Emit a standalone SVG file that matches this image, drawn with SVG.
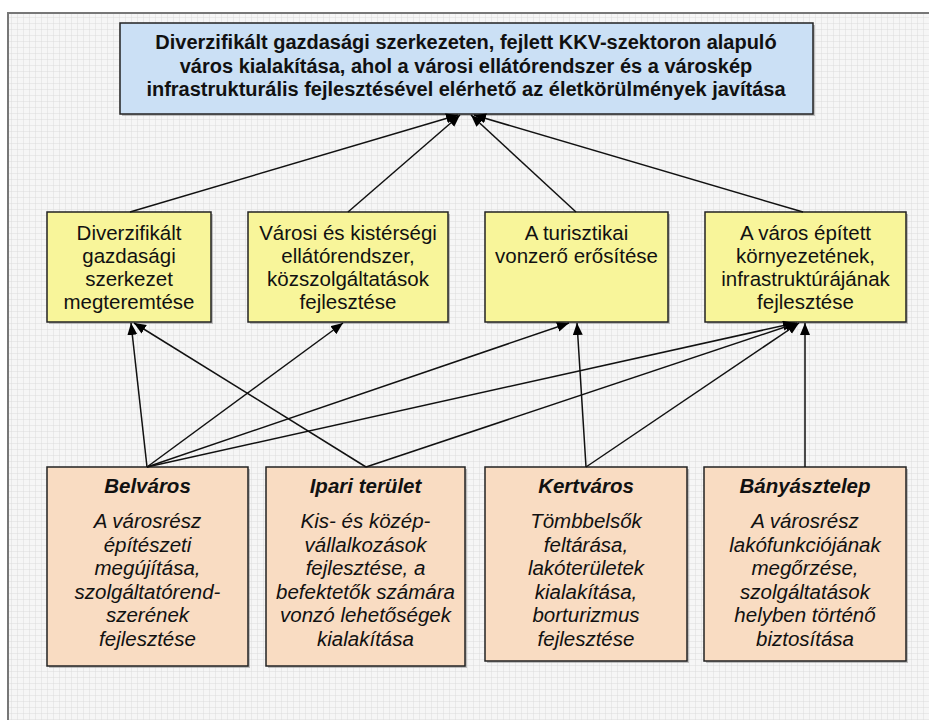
<svg xmlns="http://www.w3.org/2000/svg" width="929" height="720" viewBox="0 0 929 720">
  <defs>
    <pattern id="grid" width="6" height="6" patternUnits="userSpaceOnUse">
      <rect width="6" height="6" fill="#f6f6f6"/>
      <path d="M6 0V6M0 6H6" stroke="#dcdcdc" stroke-width="1" fill="none"/>
    </pattern>
    <marker id="ah" markerUnits="userSpaceOnUse" markerWidth="14" markerHeight="12" refX="12" refY="5" orient="auto">
      <path d="M0 0L12 5L0 10Z" fill="#000"/>
    </marker>
    <style>
      .box { stroke: #222; stroke-width: 1.5; }
      .shadow { fill: #9a9a9a; opacity: 0.6; }
      .top { fill: #cbe0f5; }
      .mid { fill: #f8f59a; }
      .bot { fill: #f9dcc2; }
      .t { font-family: "Liberation Sans", Arial, sans-serif; fill: #111; text-anchor: middle; }
      .tb { font-size: 20px; font-weight: bold; }
      .tm { font-size: 20.5px; }
      .th { font-size: 20.5px; font-weight: bold; font-style: italic; }
      .ti { font-size: 20.5px; font-style: italic; }
      .c { stroke: #111; stroke-width: 1.5; fill: none; marker-end: url(#ah); }
    </style>
  </defs>

  <rect x="0" y="0" width="929" height="720" fill="#ffffff"/>
  <rect x="8" y="13" width="930" height="720" fill="url(#grid)" stroke="#777" stroke-width="2"/>

  <g id="goal">
    <rect class="shadow" x="122" y="25" width="693" height="91"/>
    <rect class="box top" x="120" y="23" width="693" height="91"/>
    <text class="t tb" x="466" y="49">Diverzifikált gazdasági szerkezeten, fejlett KKV-szektoron alapuló</text>
    <text class="t tb" x="466" y="72.5">város kialakítása, ahol a városi ellátórendszer és a városkép</text>
    <text class="t tb" x="466" y="96">infrastrukturális fejlesztésével elérhető az életkörülmények javítása</text>
  </g>

  <g id="m1">
    <rect class="shadow" x="49" y="214" width="164" height="110"/>
    <rect class="box mid" x="47" y="212" width="164" height="110"/>
    <text class="t tm" x="129" y="240">Diverzifikált</text>
    <text class="t tm" x="129" y="263">gazdasági</text>
    <text class="t tm" x="129" y="286">szerkezet</text>
    <text class="t tm" x="129" y="309">megteremtése</text>
  </g>
  <g id="m2">
    <rect class="shadow" x="250" y="214" width="200" height="110"/>
    <rect class="box mid" x="248" y="212" width="200" height="110"/>
    <text class="t tm" x="348" y="240">Városi és kistérségi</text>
    <text class="t tm" x="348" y="263">ellátórendszer,</text>
    <text class="t tm" x="348" y="286">közszolgáltatások</text>
    <text class="t tm" x="348" y="309">fejlesztése</text>
  </g>
  <g id="m3">
    <rect class="shadow" x="487" y="214" width="183" height="110"/>
    <rect class="box mid" x="485" y="212" width="183" height="110"/>
    <text class="t tm" x="576.5" y="240">A turisztikai</text>
    <text class="t tm" x="576.5" y="263">vonzerő erősítése</text>
  </g>
  <g id="m4">
    <rect class="shadow" x="707" y="214" width="201" height="110"/>
    <rect class="box mid" x="705" y="212" width="201" height="110"/>
    <text class="t tm" x="805.5" y="240">A város épített</text>
    <text class="t tm" x="805.5" y="263">környezetének,</text>
    <text class="t tm" x="805.5" y="286">infrastruktúrájának</text>
    <text class="t tm" x="805.5" y="309">fejlesztése</text>
  </g>

  <g id="b1">
    <rect class="shadow" x="49" y="469" width="201" height="199"/>
    <rect class="box bot" x="47" y="467" width="201" height="199"/>
    <text class="t th" x="147.5" y="493">Belváros</text>
    <text class="t ti" x="147.5" y="528">A városrész</text>
    <text class="t ti" x="147.5" y="551.5">építészeti</text>
    <text class="t ti" x="147.5" y="575">megújítása,</text>
    <text class="t ti" x="147.5" y="598.5">szolgáltatórend-</text>
    <text class="t ti" x="147.5" y="622">szerének</text>
    <text class="t ti" x="147.5" y="645.5">fejlesztése</text>
  </g>
  <g id="b2">
    <rect class="shadow" x="268" y="469" width="199" height="199"/>
    <rect class="box bot" x="266" y="467" width="199" height="199"/>
    <text class="t th" x="365.5" y="493">Ipari terület</text>
    <text class="t ti" x="365.5" y="528">Kis- és közép-</text>
    <text class="t ti" x="365.5" y="551.5">vállalkozások</text>
    <text class="t ti" x="365.5" y="575">fejlesztése, a</text>
    <text class="t ti" x="365.5" y="598.5">befektetők számára</text>
    <text class="t ti" x="365.5" y="622">vonzó lehetőségek</text>
    <text class="t ti" x="365.5" y="645.5">kialakítása</text>
  </g>
  <g id="b3">
    <rect class="shadow" x="487" y="469" width="202" height="194"/>
    <rect class="box bot" x="485" y="467" width="202" height="194"/>
    <text class="t th" x="586" y="493">Kertváros</text>
    <text class="t ti" x="586" y="528">Tömbbelsők</text>
    <text class="t ti" x="586" y="551.5">feltárása,</text>
    <text class="t ti" x="586" y="575">lakóterületek</text>
    <text class="t ti" x="586" y="598.5">kialakítása,</text>
    <text class="t ti" x="586" y="622">borturizmus</text>
    <text class="t ti" x="586" y="645.5">fejlesztése</text>
  </g>
  <g id="b4">
    <rect class="shadow" x="706" y="469" width="202" height="194"/>
    <rect class="box bot" x="704" y="467" width="202" height="194"/>
    <text class="t th" x="805" y="493">Bányásztelep</text>
    <text class="t ti" x="805" y="528">A városrész</text>
    <text class="t ti" x="805" y="551.5">lakófunkciójának</text>
    <text class="t ti" x="805" y="575">megőrzése,</text>
    <text class="t ti" x="805" y="598.5">szolgáltatások</text>
    <text class="t ti" x="805" y="622">helyben történő</text>
    <text class="t ti" x="805" y="645.5">biztosítása</text>
  </g>

  <g id="connectors">
    <line class="c" x1="130" y1="212" x2="458" y2="115"/>
    <line class="c" x1="348" y1="212" x2="460" y2="115"/>
    <line class="c" x1="576" y1="212" x2="471" y2="115"/>
    <line class="c" x1="803" y1="212" x2="474" y2="115"/>

    <line class="c" x1="147" y1="467" x2="131" y2="323"/>
    <line class="c" x1="366" y1="467" x2="134" y2="323"/>
    <line class="c" x1="147" y1="467" x2="343" y2="323"/>
    <line class="c" x1="147" y1="467" x2="569" y2="323"/>
    <line class="c" x1="586" y1="467" x2="577" y2="323"/>
    <line class="c" x1="147" y1="467" x2="795" y2="323"/>
    <line class="c" x1="366" y1="467" x2="797" y2="323"/>
    <line class="c" x1="586" y1="467" x2="799" y2="323"/>
    <line class="c" x1="805" y1="467" x2="805" y2="323"/>
  </g>
</svg>
